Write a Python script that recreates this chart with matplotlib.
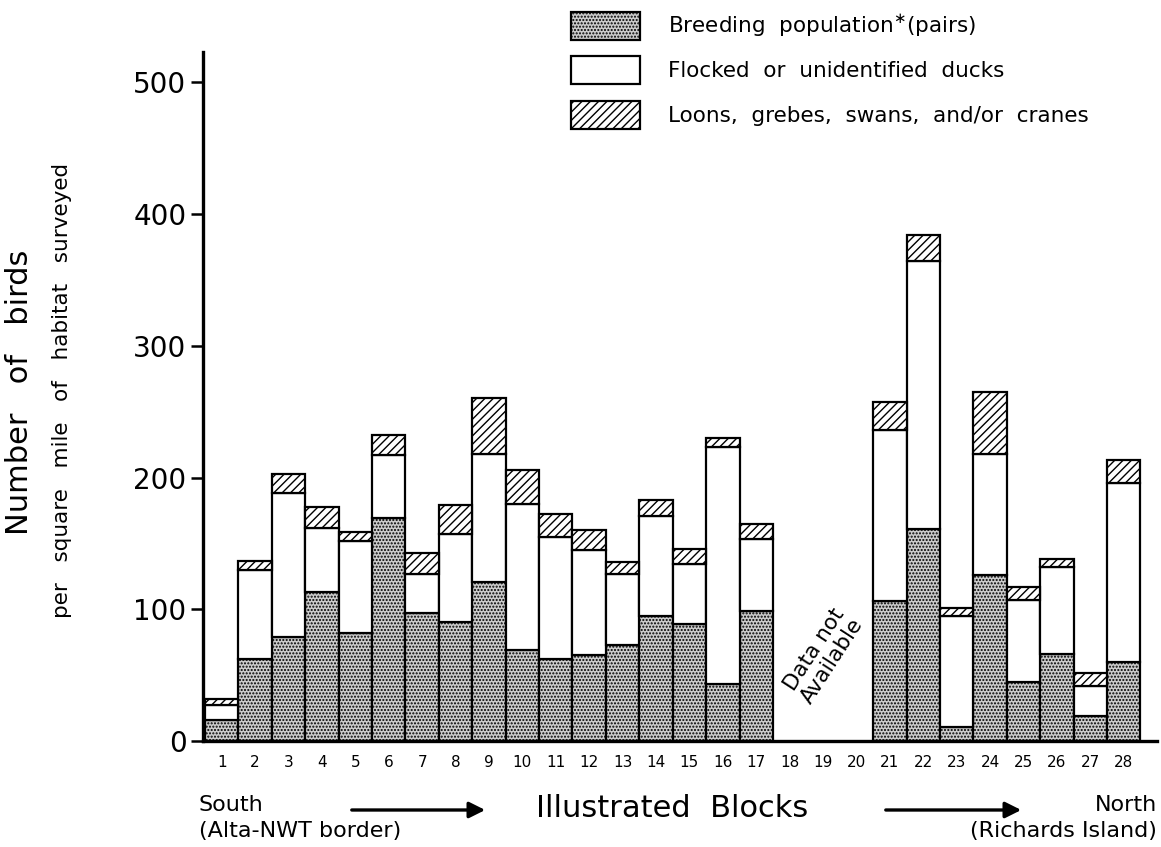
import numpy as np
import matplotlib
matplotlib.use('Agg')
import matplotlib.pyplot as plt
from matplotlib.patches import Patch, FancyArrowPatch

# Blocks 1..28 (18-20: data not available)
blocks = list(range(1, 29))
breeding = [16, 62, 79, 113, 82, 169, 97, 90, 121, 69, 62, 65, 73, 95, 89, 43, 99,
            np.nan, np.nan, np.nan, 106, 161, 11, 126, 45, 66, 19, 60]
flocked = [11, 68, 109, 49, 70, 48, 30, 67, 97, 111, 93, 80, 54, 76, 45, 180, 54,
           np.nan, np.nan, np.nan, 130, 203, 84, 92, 62, 66, 23, 136]
others = [5, 7, 15, 16, 7, 15, 16, 22, 42, 26, 17, 15, 9, 12, 12, 7, 12,
          np.nan, np.nan, np.nan, 21, 20, 6, 47, 10, 6, 10, 17]
yticks = [0, 100, 200, 300, 400, 500]

plt.rcParams['font.family'] = 'DejaVu Sans'
plt.rcParams['hatch.linewidth'] = 1.0

fig = plt.figure(figsize=(11.61, 8.47), dpi=100)
ax = fig.add_axes([0.1749, 0.1251, 0.8217, 0.8135])

x = np.array(blocks)
b = np.array(breeding)
f = np.array(flocked)
o = np.array(others)

# stacked bars
ax.bar(x, b, width=1.0, facecolor='#cccccc', edgecolor='black', hatch='.....', linewidth=1.6)
ax.bar(x, f, width=1.0, bottom=b, facecolor='white', edgecolor='black', linewidth=1.6)
ax.bar(x, o, width=1.0, bottom=b + f, facecolor='white', edgecolor='black', hatch='////', linewidth=1.6)

ax.set_xlim(0.44, 29.0)
ax.set_ylim(0, 523)

for s in ['top', 'right']:
    ax.spines[s].set_visible(False)
ax.spines['left'].set_linewidth(2.4)
ax.spines['bottom'].set_linewidth(2.4)

ax.set_yticks(yticks)
ax.set_yticklabels([str(v) for v in yticks], fontsize=20)
ax.tick_params(axis='y', direction='out', length=9, width=1.8, pad=3)
ax.set_xticks(blocks)
ax.set_xticklabels([str(v) for v in blocks], fontsize=11)
ax.tick_params(axis='x', length=0, pad=10)

ax.text(19, 65, 'Data not\nAvailable', rotation=57, ha='center', va='center',
        fontsize=15.5, linespacing=1.1)

# axis titles
fig.text(20 / 1161, 1 - 392 / 847, 'Number   of   birds', rotation=90,
         ha='center', va='center', fontsize=22)
fig.text(62 / 1161, 1 - 390 / 847, 'per   square   mile   of   habitat   surveyed', rotation=90,
         ha='center', va='center', fontsize=15.5)

# bottom annotations
fig.text(199 / 1161, 1 - 805 / 847, 'South', ha='left', va='center', fontsize=16)
fig.text(199 / 1161, 1 - 831 / 847, '(Alta-NWT border)', ha='left', va='center', fontsize=16)
fig.text(672 / 1161, 1 - 808 / 847, 'Illustrated  Blocks', ha='center', va='center', fontsize=22)
fig.text(1157 / 1161, 1 - 805 / 847, 'North', ha='right', va='center', fontsize=16)
fig.text(1157 / 1161, 1 - 831 / 847, '(Richards Island)', ha='right', va='center', fontsize=16)
for x0, x1 in [(349, 488), (883, 1024)]:
    fig.add_artist(FancyArrowPatch(
        (x0 / 1161, 1 - 810 / 847), (x1 / 1161, 1 - 810 / 847),
        transform=fig.transFigure, arrowstyle='-|>', mutation_scale=24,
        color='black', linewidth=2.4))

# legend
handles = [
    Patch(facecolor='#cccccc', edgecolor='black', hatch='.....', linewidth=1.6),
    Patch(facecolor='white', edgecolor='black', linewidth=1.6),
    Patch(facecolor='white', edgecolor='black', hatch='////', linewidth=1.6),
]
labels = [r'Breeding  population$^{\ast}$(pairs)',
          'Flocked  or  unidentified  ducks',
          'Loons,  grebes,  swans,  and/or  cranes']
fig.legend(handles, labels, loc='upper left', bbox_to_anchor=(571 / 1161, 1 - 12 / 847),
           frameon=False, fontsize=15.5, handlelength=3.2, handleheight=1.6,
           labelspacing=0.78, handletextpad=1.3, borderpad=0, borderaxespad=0)

fig.savefig('out.png', dpi=100)
